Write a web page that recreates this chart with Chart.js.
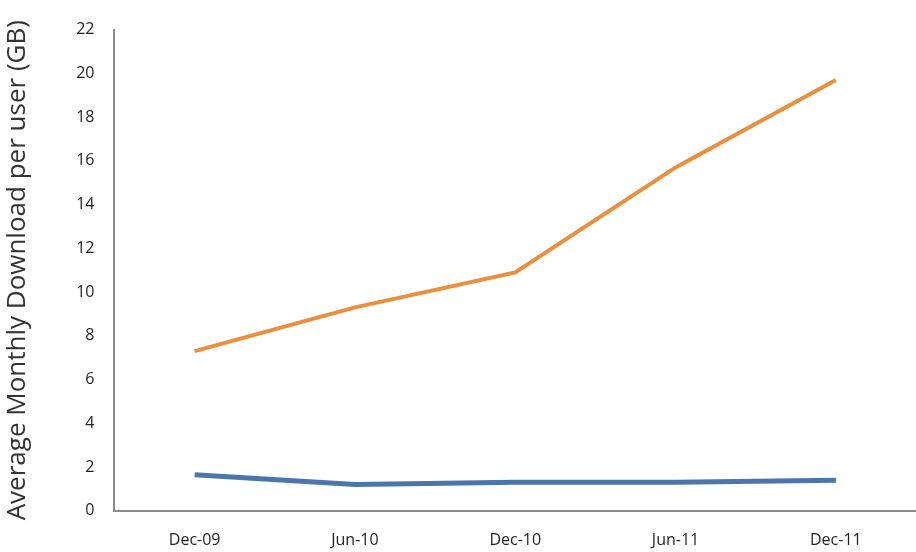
<!DOCTYPE html>
<html lang="en">
<head>
    <meta charset="UTF-8">
    <title>Average Monthly Download per user</title>
    <script src="https://cdn.jsdelivr.net/npm/chart.js"></script>
    <style>
        * { margin: 0; padding: 0; box-sizing: border-box; }
        body { background: #ffffff; }
        .chart-box { position: relative; width: 916px; height: 552px; }
    </style>
</head>
<body>
    <div class="chart-box">
        <canvas id="downloadChart"></canvas>
    </div>

    <script>
        // Data
        const periods = ['Dec-09', 'Jun-10', 'Dec-10', 'Jun-11', 'Dec-11'];
        const heavyUsers = [7.3, 9.3, 10.9, 15.7, 19.7];
        const averageUsers = [1.65, 1.2, 1.3, 1.3, 1.4];
        const yTicks = [0, 2, 4, 6, 8, 10, 12, 14, 16, 18, 20, 22];

        const ctx = document.getElementById('downloadChart').getContext('2d');
        new Chart(ctx, {
            type: 'line',
            data: {
                labels: periods,
                datasets: [{
                    label: 'Orange',
                    data: heavyUsers,
                    borderColor: '#ec8f3c',
                    borderWidth: 4,
                    pointRadius: 0,
                    tension: 0
                }, {
                    label: 'Blue',
                    data: averageUsers,
                    borderColor: '#4a76ab',
                    borderWidth: 5,
                    pointRadius: 0,
                    tension: 0
                }]
            },
            options: {
                responsive: true,
                maintainAspectRatio: false,
                animation: false,
                layout: { padding: { top: 26, right: 0, bottom: -18, left: 2 } },
                plugins: {
                    legend: { display: false },
                    tooltip: { enabled: false }
                },
                scales: {
                    x: {
                        offset: true,
                        grid: { display: false, drawTicks: false },
                        border: { display: true, color: '#8a8a8a', width: 2 },
                        ticks: {
                            padding: 20,
                            maxRotation: 0,
                            color: '#1f1f1f',
                            font: { family: 'Open Sans', size: 16 }
                        }
                    },
                    y: {
                        min: 0,
                        max: 22,
                        afterBuildTicks: (scale) => {
                            scale.ticks = yTicks.map(v => ({ value: v }));
                        },
                        grid: { display: false, drawTicks: false },
                        border: { display: true, color: '#8a8a8a', width: 2 },
                        ticks: {
                            padding: 20,
                            color: '#1f1f1f',
                            font: { family: 'Open Sans', size: 16 }
                        },
                        title: {
                            display: true,
                            text: 'Average Monthly Download per user (GB)',
                            color: '#333333',
                            padding: { top: 0, bottom: 23 },
                            font: { family: 'Open Sans', size: 26 }
                        }
                    }
                }
            }
        });
    </script>
</body>
</html>
